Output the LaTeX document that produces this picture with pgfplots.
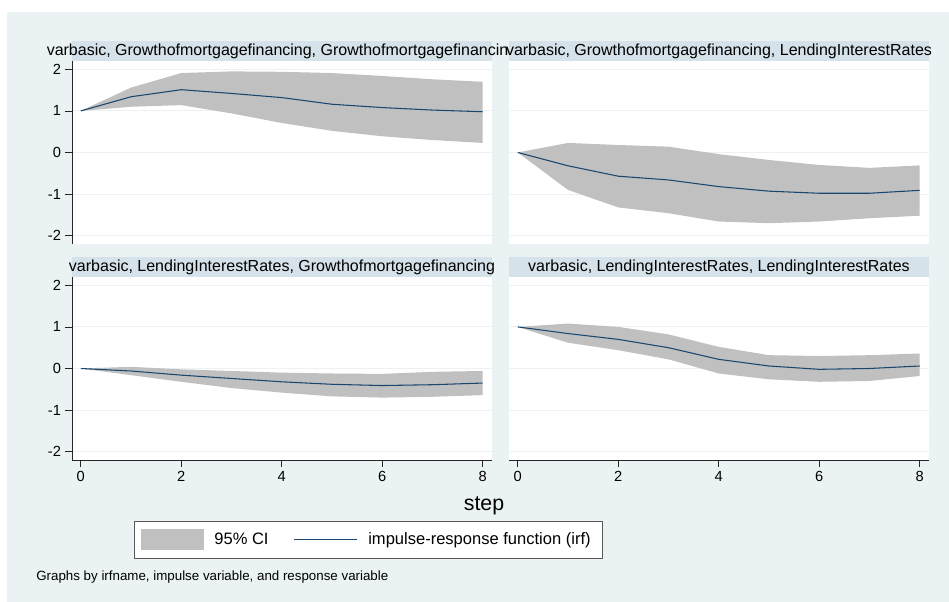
\documentclass[border=0pt]{standalone}
\usepackage{pgfplots}
\pgfplotsset{compat=1.18}
\usepgfplotslibrary{fillbetween}
\usepackage{pgfplotstable}
\usepackage{fontspec}
\setmainfont{Liberation Sans}

\definecolor{bgc}{RGB}{234,242,243}
\definecolor{band}{RGB}{214,226,233}
\definecolor{gridc}{RGB}{234,242,243}
\definecolor{cic}{RGB}{192,192,192}
\definecolor{irfc}{RGB}{26,71,111}
\pagecolor{bgc}

% step, irf, lower and upper 95% bound
\pgfplotstableread{
step irf lo hi
0 1.00 1.00 1.00
1 1.34 1.10 1.56
2 1.51 1.14 1.91
3 1.42 0.94 1.95
4 1.32 0.71 1.94
5 1.16 0.52 1.91
6 1.08 0.39 1.84
7 1.02 0.30 1.76
8 0.98 0.23 1.70
}\tabGG
\pgfplotstableread{
step irf lo hi
0 0.00 0.00 0.00
1 -0.32 -0.90 0.23
2 -0.57 -1.32 0.18
3 -0.66 -1.46 0.14
4 -0.82 -1.66 -0.04
5 -0.93 -1.70 -0.18
6 -0.98 -1.66 -0.30
7 -0.98 -1.58 -0.37
8 -0.91 -1.52 -0.31
}\tabGL
\pgfplotstableread{
step irf lo hi
0 0.00 0.00 0.00
1 -0.06 -0.16 0.04
2 -0.16 -0.32 -0.02
3 -0.24 -0.47 -0.06
4 -0.32 -0.58 -0.10
5 -0.38 -0.67 -0.12
6 -0.41 -0.70 -0.13
7 -0.39 -0.68 -0.08
8 -0.35 -0.64 -0.06
}\tabLG
\pgfplotstableread{
step irf lo hi
0 1.00 1.00 1.00
1 0.84 0.62 1.08
2 0.70 0.44 1.00
3 0.50 0.22 0.82
4 0.22 -0.12 0.52
5 0.06 -0.26 0.32
6 -0.02 -0.32 0.30
7 0.00 -0.30 0.32
8 0.06 -0.18 0.36
}\tabLL

\pgfplotsset{
  irfpanel/.style={
    scale only axis, width=315pt, height=137.25pt,
    xmin=-0.175, xmax=8.185, ymin=-2.2, ymax=2.2,
    xtick={0,2,4,6,8}, ytick={-2,-1,0,1,2},
    axis x line*=bottom, axis y line*=left,
    axis line style={-, black!85, line width=0.6pt},
    tick align=outside, major tick length=5.25pt,
    tick style={black!85, line width=0.6pt},
    ymajorgrids, grid style={gridc, line width=0.8pt},
    axis background/.style={fill=white},
    tick label style={font=\fontsize{11}{13}\selectfont},
    yticklabel style={xshift=0.5pt},
    /pgf/number format/assume math mode=true,
    anchor=south west,
  },
  nox/.style={xticklabels={}, x axis line style={draw=none}, xtick style={draw=none}},
  noy/.style={yticklabels={}, y axis line style={draw=none}, ytick style={draw=none}},
  ciimg/.style={legend image code/.code={\fill[cic] (0pt,-7.875pt) rectangle (47pt,7.875pt);}},
  lineimg/.style={legend image code/.code={\draw[irfc, line width=0.8pt] (0pt,0pt) -- (47pt,0pt);}},
}
\tikzset{tfont/.style={font=\fontsize{12}{14}\selectfont}}

\begin{document}
\begin{tikzpicture}
% white margin at the top and on the left; the rest of the page is bgc
\fill[white] (0pt,442.5pt) rectangle (711.75pt,451.5pt);
\fill[white] (0pt,0pt) rectangle (5.25pt,451.5pt);

\begin{axis}[irfpanel, nox, name=p1, at={(54pt,268.5pt)}]
  \addplot[name path=u, draw=none, forget plot] table[x=step, y=hi] {\tabGG};
  \addplot[name path=l, draw=none, forget plot] table[x=step, y=lo] {\tabGG};
  \addplot[cic, draw=none] fill between[of=u and l];
  \addplot[irfc, line width=0.8pt] table[x=step, y=irf] {\tabGG};
\end{axis}
\fill[band] (p1.north west) rectangle ([yshift=15pt]p1.north east);
\node[tfont] at ([yshift=7.5pt]p1.north) {varbasic, Growthofmortgagefinancing, Growthofmortgagefinancing};

\begin{axis}[irfpanel, nox, noy, name=p2, at={(381.75pt,268.5pt)}]
  \addplot[name path=u, draw=none, forget plot] table[x=step, y=hi] {\tabGL};
  \addplot[name path=l, draw=none, forget plot] table[x=step, y=lo] {\tabGL};
  \addplot[cic, draw=none] fill between[of=u and l];
  \addplot[irfc, line width=0.8pt] table[x=step, y=irf] {\tabGL};
\end{axis}
\fill[band] (p2.north west) rectangle ([yshift=15pt]p2.north east);
\node[tfont] at ([yshift=7.5pt]p2.north) {varbasic, Growthofmortgagefinancing, LendingInterestRates};

\begin{axis}[irfpanel, name=p3, at={(54pt,106.5pt)},
  legend columns=2, legend cell align=left,
  legend style={at={(0.706,-0.437)}, anchor=center, draw=black!65, line width=0.6pt,
    fill=white, font=\fontsize{12.4}{14}\selectfont, inner xsep=5pt, inner ysep=6pt,
    /tikz/every odd column/.append style={column sep=4pt},
    /tikz/every even column/.append style={column sep=15pt},
    nodes={inner ysep=0pt, inner xsep=4pt}}]
  \addplot[name path=u, draw=none, forget plot] table[x=step, y=hi] {\tabLG};
  \addplot[name path=l, draw=none, forget plot] table[x=step, y=lo] {\tabLG};
  \addplot[cic, draw=none, ciimg] fill between[of=u and l];
  \addplot[irfc, line width=0.8pt, lineimg] table[x=step, y=irf] {\tabLG};
  \legend{95\% CI, impulse-response function (irf)}
\end{axis}
\fill[band] (p3.north west) rectangle ([yshift=15pt]p3.north east);
\node[tfont] at ([yshift=7.5pt]p3.north) {varbasic, LendingInterestRates, Growthofmortgagefinancing};

\begin{axis}[irfpanel, noy, name=p4, at={(381.75pt,106.5pt)}]
  \addplot[name path=u, draw=none, forget plot] table[x=step, y=hi] {\tabLL};
  \addplot[name path=l, draw=none, forget plot] table[x=step, y=lo] {\tabLL};
  \addplot[cic, draw=none] fill between[of=u and l];
  \addplot[irfc, line width=0.8pt] table[x=step, y=irf] {\tabLL};
\end{axis}
\fill[band] (p4.north west) rectangle ([yshift=15pt]p4.north east);
\node[tfont] at ([yshift=7.5pt]p4.north) {varbasic, LendingInterestRates, LendingInterestRates};

\node[font=\fontsize{16}{18}\selectfont] at (363pt,72pt) {step};
\node[anchor=west, font=\fontsize{10}{12}\selectfont] at (23.7pt,18.75pt) {Graphs by irfname, impulse variable, and response variable};
\end{tikzpicture}
\end{document}
